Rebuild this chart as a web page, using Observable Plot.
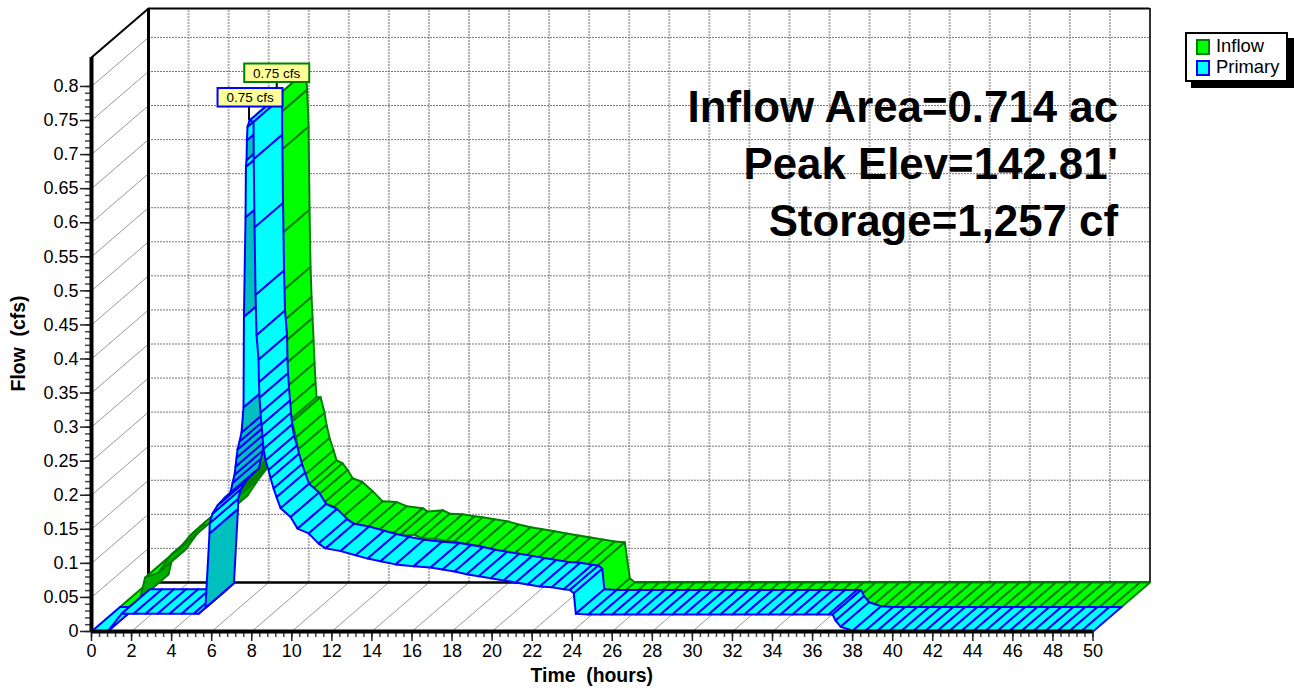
<!DOCTYPE html>
<html>
<head>
<meta charset="utf-8">
<script src="https://cdn.jsdelivr.net/npm/d3@7"></script>
<script src="https://cdn.jsdelivr.net/npm/@observablehq/plot@0.6"></script>
<style>
html,body{margin:0;padding:0;background:#fff;overflow:hidden}
#wrap{position:relative;width:1294px;height:688px;font-family:"Liberation Sans",Arial,sans-serif}
#legend{position:absolute;left:1185px;top:32px;width:99px;height:46px;border:2px solid #000;background:#fff;box-shadow:6px 6px 0 #000;font-size:18.4px;line-height:21px;color:#000}
#legend div{position:relative;height:21px;padding-left:29px;white-space:nowrap}
#legend div:first-child{margin-top:1px}
#legend i{position:absolute;left:9px;top:4px;width:10px;height:12px;border:2px solid}
</style>
</head>
<body>
<div id="wrap"></div>
<script>
const xTicks = [0,2,4,6,8,10,12,14,16,18,20,22,24,26,28,30,32,34,36,38,40,42,44,46,48,50];
const yTicks = [0,0.05,0.1,0.15,0.2,0.25,0.3,0.35,0.4,0.45,0.5,0.55,0.6,0.65,0.7,0.75,0.8];
const seriesNames = ["Inflow","Primary"];
const noteLines = "Inflow Area=0.714 ac\nPeak Elev=142.81'\nStorage=1,257 cf";

const primaryT = [0,0.8,1.5,2.1,2.7,3.3,3.9,4.5,5.1,5.35,5.69,5.89,5.9,6.04,6.29,6.64,6.94,7.04,7.14,7.19,7.24,7.29,7.39,7.49,7.59,7.61,7.69,7.71,7.74,7.76,7.79,7.89,
 8.09,8.1,8.14,8.19,8.24,8.34,8.36,8.39,8.44,8.49,8.54,8.59,8.69,8.84,8.94,9.09,9.24,9.44,9.94,10.29,10.84,11.34,11.69,12.44,13.19,13.79,14.43,15.18,16.08,16.93,17.53,18.13,18.73,19.33,19.93,20.58,21.18,21.78,22.38,22.98,23.58,23.88,24.08,24.18,
 24.8,25.4,26,26.6,27.2,27.8,28.4,29,29.6,30.2,30.8,31.4,32,32.6,33.2,33.8,34.4,35,35.6,36.2,36.8,37,37.15,37.4,38,
 38.6,39.2,39.8,40.4,41,41.6,42.2,42.8,43.4,44,44.6,45.2,45.8,46.4,47,47.6,48.2,48.8,49.4,50];
const primaryQ = [0,0,0.026,0.026,0.026,0.026,0.026,0.026,0.026,0.026,0.035,0.144,0.159,0.173,0.185,0.196,0.204,0.218,0.23,0.242,0.255,0.267,0.279,0.292,0.329,0.462,0.608,0.682,0.692,0.721,0.741,0.75,
 0.748,0.693,0.593,0.494,0.435,0.399,0.366,0.343,0.321,0.303,0.285,0.268,0.251,0.237,0.225,0.21,0.197,0.181,0.168,0.151,0.144,0.129,0.122,0.118,0.112,0.107,0.103,0.0985,0.0956,0.094,0.091,0.088,0.084,0.081,0.078,0.075,0.072,0.069,0.066,0.065,0.062,0.061,0.056,0.026,
 0.025,0.025,0.025,0.025,0.025,0.025,0.025,0.025,0.025,0.025,0.025,0.025,0.025,0.025,0.025,0.025,0.025,0.025,0.025,0.025,0.025,0.025,0.016,0.007,0.001,
 0,0,0,0,0,0,0,0,0,0,0,0,0,0,0,0,0,0,0,0];
const primaryUndersideFrom = [5.69,6.94,7.04,7.14,7.19,7.24,7.29,7.39,7.49,7.61,7.74];

const inflowT = [0,0.5,1,1.25,1.9,2.55,2.95,3.5,4,4.4,4.95,5.55,5.95,6.1,6.5,6.9,7.1,7.3,7.5,7.6,7.7,7.8,7.85,
 7.92,7.99,8.04,8.09,8.14,8.19,8.24,8.29,8.34,8.39,8.59,8.79,8.89,9.04,9.24,9.39,9.69,9.94,10.19,10.69,11.19,11.69,12.39,12.89,13.69,13.94,14.69,15.04,15.68,16.28,16.68,17.28,17.88,18.48,19.08,19.68,20.28,20.88,21.48,22.08,22.68,23.28,23.78,24.03,24.28,
 24.9,25.5,26.1,26.7,27.3,27.9,28.5,29.1,29.7,30.3,30.9,31.5,32.1,32.7,33.3,33.9,34.5,35.1,35.7,36.3,36.9,37.5,38.1,38.7,39.3,39.9,40.5,41.1,41.7,42.3,42.9,43.5,44.1,44.7,45.3,45.9,46.5,47.1,47.7,48.3,48.9,49.5,50];
const inflowQ = [0,0,0.012,0.043,0.05,0.0767,0.085,0.105,0.118,0.122,0.128,0.154,0.169,0.175,0.19,0.205,0.23,0.26,0.31,0.36,0.6,0.7,0.75,
 0.723,0.669,0.547,0.463,0.419,0.388,0.356,0.322,0.293,0.272,0.272,0.249,0.231,0.212,0.194,0.179,0.175,0.165,0.153,0.147,0.134,0.119,0.118,0.112,0.109,0.104,0.106,0.101,0.1,0.097,0.0956,0.0926,0.09,0.085,0.081,0.078,0.075,0.072,0.069,0.066,0.063,0.06,0.059,0.006,0,
 0,0,0,0,0,0,0,0,0,0,0,0,0,0,0,0,0,0,0,0,0,0,0,0,0,0,0,0,0,0,0,0,0,0,0,0,0,0,0,0,0,0,0];

const peaks = [
  {label:"0.75 cfs", t:7.85, q:0.75, depth:1, stroke:"#008000", dx:0, dy:-22.5},
  {label:"0.75 cfs", t:7.89, q:0.75, depth:0, stroke:"#0000ff", dx:1, dy:-22.5}
];

const DX = 1.423, DY = 0.036;
const W = 50;
const floorTop = 0.8426;
const px = (t,d) => t + DX*d;
const py = (q,d) => q + DY*d;

function ribbon(name, T, Q, d0, d1, fill, under, stroke, isUnder){
  const out = [];
  for (let i=0;i<T.length-1;i++){
    const u = isUnder(i);
    const id = name+i;
    const f = u ? under : fill;
    [[T[i],Q[i],d0],[T[i+1],Q[i+1],d0],[T[i+1],Q[i+1],d1],[T[i],Q[i],d1]].forEach(([t,q,d])=>{
      out.push({id, x:px(t,d), y:py(q,d), fill:f, stroke});
    });
  }
  return out;
}
const steep = (T,Q,i) => (Q[i+1]-Q[i]) > (T[i+1]-T[i])*DY/DX;
const inflowQuads = ribbon("in",inflowT,inflowQ,1,2,"#00ff00","#00b000","#008000",i=>steep(inflowT,inflowQ,i));
const primaryQuads = ribbon("pr",primaryT,primaryQ,0,1,"#00ffff","#00bfbf","#0000ff",i=>primaryUndersideFrom.includes(primaryT[i]));

const backGridX = xTicks.filter(t=>t>0&&t<W);
const floorDiag = xTicks.filter(t=>t>0);
const wallDiag = yTicks.filter(q=>q>0);

const chart = Plot.plot({
  width:1294, height:688,
  marginLeft:91, marginRight:144.5, marginTop:7, marginBottom:57,
  style:{fontFamily:"'Liberation Sans',Arial,sans-serif",fontSize:"18px",background:"#fff",color:"#000"},
  x:{domain:[0,W+2*DX],axis:null},
  y:{domain:[0,0.9159],axis:null},
  color:{type:"identity"},
  marks:[
    Plot.ruleX(backGridX,{x:t=>px(t,2),y1:py(0,2),y2:py(floorTop,2),stroke:"#b0b0b0",strokeWidth:2,strokeDasharray:"2 1"}),
    Plot.ruleY(wallDiag,{y:q=>py(q,2),x1:px(0,2),x2:px(W,2),stroke:"#777",strokeWidth:1,strokeDasharray:"2 1"}),
    Plot.link(floorDiag,{x1:t=>px(t,0),y1:0,x2:t=>px(t,2),y2:py(0,2),stroke:"#999",strokeWidth:1}),
    Plot.link(wallDiag,{x1:0,y1:q=>q,x2:px(0,2),y2:q=>py(q,2),stroke:"#999",strokeWidth:1}),
    Plot.ruleX([px(0,2)],{y1:py(0,2),y2:py(floorTop,2),stroke:"#000",strokeWidth:3}),
    Plot.ruleX([px(W,2)],{y1:py(0,2),y2:py(floorTop,2),stroke:"#333",strokeWidth:2}),
    Plot.ruleY([py(floorTop,2)],{x1:px(0,2),x2:px(W,2),stroke:"#000",strokeWidth:2}),
    Plot.ruleY([py(0,2)],{x1:px(0,2),x2:px(W,2),stroke:"#000",strokeWidth:2.5}),
    Plot.link([0],{x1:0,y1:floorTop,x2:px(0,2),y2:py(floorTop,2),stroke:"#000",strokeWidth:2}),
    Plot.line(inflowQuads,{x:"x",y:"y",z:"id",fill:"fill",stroke:"stroke",strokeWidth:2,curve:"linear-closed"}),
    Plot.line(primaryQuads,{x:"x",y:"y",z:"id",fill:"fill",stroke:"stroke",strokeWidth:2,curve:"linear-closed"}),
    Plot.axisX({ticks:d3.range(0,50.01,0.4),tickSize:6,tickFormat:()=>"",label:null,stroke:"#444",strokeWidth:1.5}),
    Plot.axisX({ticks:xTicks,tickSize:10,tickPadding:3,tickFormat:d=>String(d),label:null,fontSize:18,fill:"#000",stroke:"#222",strokeWidth:1.5}),
    Plot.axisY({ticks:d3.range(0,0.8001,0.01),tickSize:6,tickFormat:()=>"",label:null,stroke:"#444",strokeWidth:1.5}),
    Plot.axisY({ticks:yTicks,tickSize:11,tickPadding:2,tickFormat:d=>String(d),label:null,fontSize:18,fill:"#000",stroke:"#222",strokeWidth:1.5}),
    Plot.ruleX([0],{y1:0,y2:floorTop,stroke:"#000",strokeWidth:4}),
    Plot.ruleY([0],{x1:0,x2:W,stroke:"#000",strokeWidth:4}),
    (index,scales)=>{
      const g = d3.create("svg:g");
      for (const p of peaks){
        const X = scales.x(px(p.t,p.depth)), Y = scales.y(py(p.q,p.depth));
        g.append("line").attr("x1",X).attr("x2",X).attr("y1",Y).attr("y2",Y+p.dy).attr("stroke","#000").attr("stroke-width",2);
        g.append("rect").attr("x",X+p.dx-32.5).attr("y",Y+p.dy-9.5).attr("width",65).attr("height",18.5)
          .attr("fill","#ffff99").attr("stroke",p.stroke).attr("stroke-width",2);
        g.append("text").attr("x",X+p.dx).attr("y",Y+p.dy).attr("dy","0.34em").attr("text-anchor","middle")
          .attr("font-size",13.5).attr("fill","#000").text(p.label);
      }
      return g.node();
    },
    Plot.text([noteLines],{frameAnchor:"top-right",dx:-32,dy:74,fontSize:43.8,fontWeight:"bold",lineHeight:1.3,textAnchor:"end",fill:"#000"}),
    Plot.text(["Flow\u00a0\u00a0(cfs)"],{frameAnchor:"left",rotate:-90,textAnchor:"middle",dx:-73,dy:24,fontSize:19.4,fontWeight:"bold",fill:"#000"}),
    Plot.text(["Time\u00a0\u00a0(hours)"],{frameAnchor:"bottom",dx:-29,dy:50,fontSize:19.4,fontWeight:"bold",fill:"#000"})
  ]
});
const wrap = document.getElementById("wrap");
chart.style.display="block";
wrap.appendChild(chart);
const legend = document.createElement("div");
legend.id="legend";
const swatches = [["#00ff00","#008000"],["#00ffff","#0000ff"]];
seriesNames.forEach((name,i)=>{
  const row=document.createElement("div");
  const sw=document.createElement("i");
  sw.style.background=swatches[i][0];sw.style.borderColor=swatches[i][1];
  row.appendChild(sw);row.appendChild(document.createTextNode(name));
  legend.appendChild(row);
});
wrap.appendChild(legend);
</script>
</body>
</html>
